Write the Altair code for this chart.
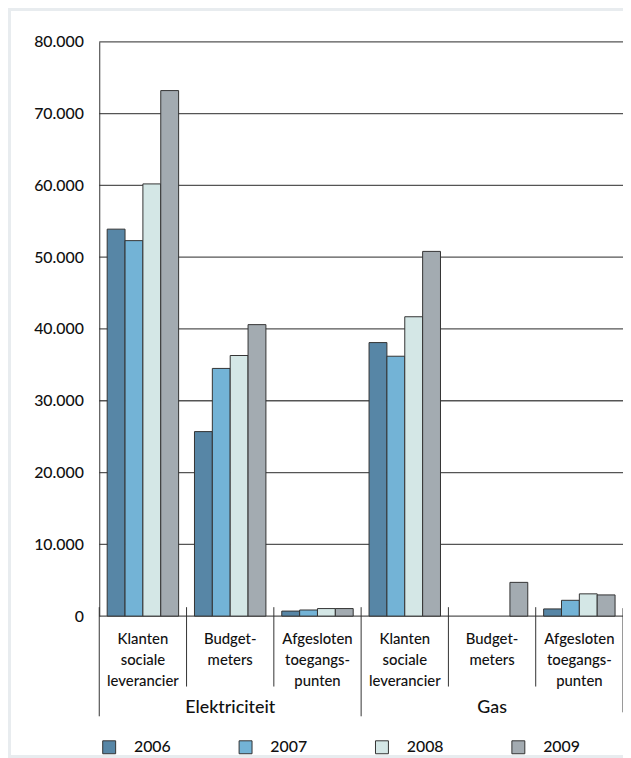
import altair as alt
import pandas as pd

# ---- data ----
cats = ["E1", "E2", "E3", "G1", "G2", "G3"]
cat_labels = [
    "Klanten\nsociale\nleverancier", "Budget-\nmeters", "Afgesloten\ntoegangs-\npunten",
    "Klanten\nsociale\nleverancier", "Budget-\nmeters", "Afgesloten\ntoegangs-\npunten",
]
groups = ["Elektriciteit", "Gas"]
group_centre_cat = ["E2", "G2"]
years = ["2006", "2007", "2008", "2009"]
colors = ["#5786a6", "#73b3d6", "#d4e7e6", "#a3abb1"]

v2006 = [53900, 25700, 700, 38100, None, 1000]
v2007 = [52300, 34500, 850, 36200, None, 2200]
v2008 = [60200, 36300, 1050, 41700, None, 3100]
v2009 = [73200, 40600, 1050, 50800, 4700, 2950]
y_ticks = [0, 10000, 20000, 30000, 40000, 50000, 60000, 70000, 80000]

rows = []
for yr, vals in zip(years, [v2006, v2007, v2008, v2009]):
    for c, v in zip(cats, vals):
        if v is not None:
            rows.append({"cat": c, "year": yr, "value": v})
bars_df = pd.DataFrame(rows)
labels_df = pd.DataFrame({"cat": cats, "label": cat_labels})
groups_df = pd.DataFrame({"cat": group_centre_cat, "label": groups})
grid_df = pd.DataFrame({"value": y_ticks})
sep_short_df = pd.DataFrame({"cat": ["E2", "E3", "G2", "G3"]})
sep_long_df = pd.DataFrame({"cat": ["E1", "G1"]})
sep_end_df = pd.DataFrame({"cat": ["G3"]})
one_df = pd.DataFrame({"a": [0]})

FONT = "Lato"
FW = 500
W, H = 528, 579
PAD_TOP, PAD_BOTTOM = 31, 140

xscale = alt.Scale(domain=cats, paddingInner=0, paddingOuter=0)
yscale = alt.Scale(domain=[0, 80000], nice=False)
yaxis = alt.Axis(values=y_ticks, grid=False, ticks=False, domain=True, zindex=1,
                 domainColor="#333333", domainWidth=1,
                 labelFont=FONT, labelFontSize=16, labelFontWeight=FW,
                 labelColor="#111111", labelPadding=16,
                 labelExpr="replace(format(datum.value, ','), ',', '.')")

panel = alt.Chart(one_df).mark_rect(color="white").encode(
    x=alt.value(-89), x2=alt.value(W), y=alt.value(-PAD_TOP), y2=alt.value(H + PAD_BOTTOM)
)

grid = alt.Chart(grid_df).mark_rule(color="#555555", strokeWidth=1.3).encode(
    y=alt.Y("value:Q", scale=yscale, title=None, axis=yaxis),
    x=alt.value(0), x2=alt.value(W),
)

bars = alt.Chart(bars_df).mark_bar(stroke="#333333", strokeWidth=1, opacity=1).encode(
    x=alt.X("cat:N", scale=xscale, axis=None),
    xOffset=alt.XOffset("year:N", scale=alt.Scale(domain=years, paddingInner=0, paddingOuter=0.444)),
    y=alt.Y("value:Q", scale=yscale, title=None, axis=yaxis),
    color=alt.Color("year:N", scale=alt.Scale(domain=years, range=colors),
                    legend=alt.Legend(orient="none", legendX=2, legendY=703,
                                      direction="horizontal", columns=4, title=None,
                                      symbolType="square", symbolSize=170,
                                      symbolStrokeColor="#333333", symbolStrokeWidth=1,
                                      symbolOpacity=1, zindex=1,
                                      labelFont=FONT, labelFontSize=16, labelFontWeight=FW,
                                      labelColor="#111111",
                                      labelOffset=17, columnPadding=65.5)),
)

sep_short = alt.Chart(sep_short_df).mark_rule(color="#333333", strokeWidth=1).encode(
    x=alt.X("cat:N", scale=xscale, axis=None, bandPosition=0),
    y=alt.value(570), y2=alt.value(650),
)
sep_long = alt.Chart(sep_long_df).mark_rule(color="#333333", strokeWidth=1).encode(
    x=alt.X("cat:N", scale=xscale, axis=None, bandPosition=0),
    y=alt.value(570), y2=alt.value(680),
)
sep_end = alt.Chart(sep_end_df).mark_rule(color="#333333", strokeWidth=1).encode(
    x=alt.X("cat:N", scale=xscale, axis=None, bandPosition=1),
    y=alt.value(571), y2=alt.value(676),
)

cat_text = alt.Chart(labels_df).mark_text(
    font=FONT, fontSize=15, fontWeight=FW, color="#111111", align="center", baseline="middle",
    lineBreak="\n", lineHeight=21,
).encode(
    x=alt.X("cat:N", scale=xscale, axis=None),
    y=alt.value(602),
    text="label:N",
)

group_text = alt.Chart(groups_df).mark_text(
    font=FONT, fontSize=18, fontWeight=FW, color="#111111", align="center", baseline="middle",
).encode(
    x=alt.X("cat:N", scale=xscale, axis=None),
    y=alt.value(672),
    text="label:N",
)

chart = alt.layer(
    panel, grid, bars, sep_short, sep_long, sep_end, cat_text, group_text
).properties(
    width=W, height=H,
    autosize=alt.AutoSizeParams(type="none"),
    padding={"left": 92, "top": PAD_TOP, "right": 0, "bottom": PAD_BOTTOM},
    background="#e8ecef",
).configure_view(strokeWidth=0)

chart.save("out.html", embed_options={"renderer": "svg", "actions": False})
